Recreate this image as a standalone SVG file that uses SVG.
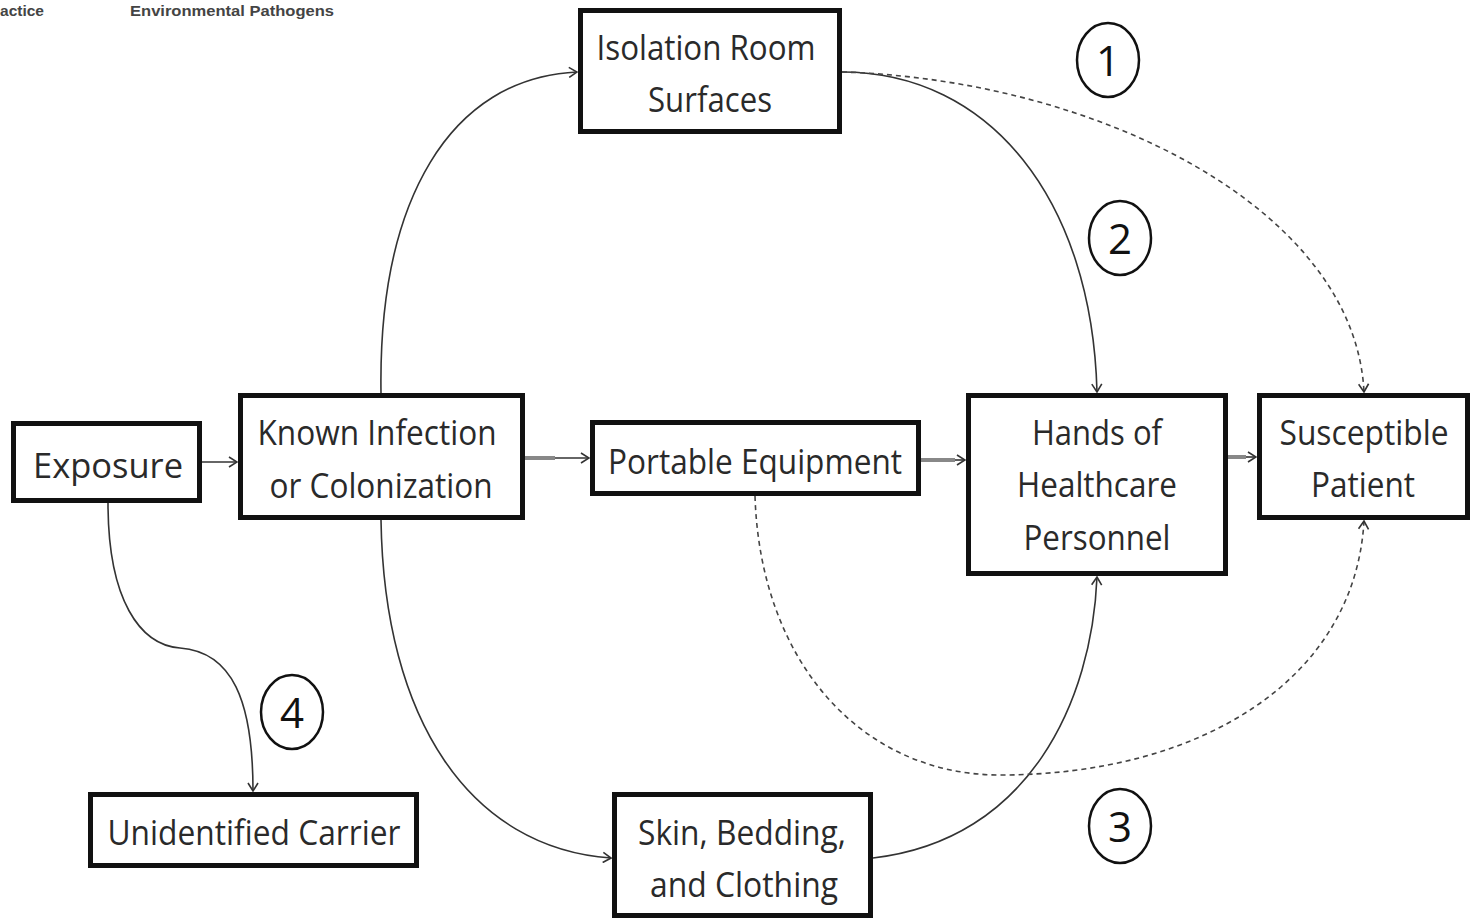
<svg xmlns="http://www.w3.org/2000/svg" width="1471" height="920" viewBox="0 0 1471 920">
<style>
.box{fill:#fff;stroke:#111;stroke-width:5}
.t{font-family:"Open Sans","Liberation Sans",sans-serif;font-size:34px;fill:#2a2a2a;text-anchor:middle}
.hdr{font-family:"Liberation Sans",Arial,sans-serif;font-size:15px;fill:#444;font-weight:bold}
.c{fill:none;stroke:#333;stroke-width:1.6}
.g{fill:none;stroke:#888;stroke-width:4}
.d{fill:none;stroke:#444;stroke-width:1.6;stroke-dasharray:5 4}
.num{fill:none;stroke:#111;stroke-width:2.5}
.n{font-family:"Open Sans","Liberation Sans",sans-serif;font-size:42px;fill:#111;text-anchor:middle}
</style>
<defs>
<marker id="ah" viewBox="0 0 10 12" refX="9" refY="6" markerWidth="10" markerHeight="12" markerUnits="userSpaceOnUse" orient="auto">
<path d="M1,1 L9,6 L1,11" fill="none" stroke="#333" stroke-width="1.6"/>
</marker>
</defs>
<rect width="1471" height="920" fill="#fff"/>
<text class="hdr" x="0" y="16" textLength="44" lengthAdjust="spacingAndGlyphs">actice</text>
<text class="hdr" x="130" y="16" textLength="204" lengthAdjust="spacingAndGlyphs">Environmental Pathogens</text>

<g id="connectors">
<path class="c" d="M202,462 L237,462" marker-end="url(#ah)"/>
<path class="g" d="M525,458 L555,458"/>
<path class="c" d="M555,458 L589,458" marker-end="url(#ah)"/>
<path class="g" d="M921,460 L955,460"/>
<path class="c" d="M955,460 L965,460" marker-end="url(#ah)"/>
<path class="g" d="M1228,457 L1246,457"/>
<path class="c" d="M1246,457 L1256,457" marker-end="url(#ah)"/>
<path class="c" d="M381,393 C378,200 450,78 577,72" marker-end="url(#ah)"/>
<path class="c" d="M381,520 C384,720 470,848 611,858" marker-end="url(#ah)"/>
<path class="c" d="M842,72 C990,72 1092,200 1097,392" marker-end="url(#ah)"/>
<path class="d" d="M842,72 C1100,80 1355,210 1364,392" marker-end="url(#ah)"/>
<path class="c" d="M873,858 C1030,840 1092,700 1097,577" marker-end="url(#ah)"/>
<path class="d" d="M755,496 C760,660 860,775 1000,775 C1200,775 1355,680 1364,521" marker-end="url(#ah)"/>
<path class="c" d="M108,503 C108,600 140,645 180,648 C232,652 253,700 253,791" marker-end="url(#ah)"/>
</g>

<g id="isolation"><rect class="box" x="580.5" y="10.5" width="259" height="121"/>
<text class="t" x="706" y="60" textLength="219" lengthAdjust="spacingAndGlyphs">Isolation Room</text>
<text class="t" x="710" y="112" textLength="124" lengthAdjust="spacingAndGlyphs">Surfaces</text></g>

<g id="exposure"><rect class="box" x="13.5" y="423.5" width="186" height="77"/>
<text class="t" x="108" y="478" textLength="150" lengthAdjust="spacingAndGlyphs">Exposure</text></g>

<g id="known"><rect class="box" x="240.5" y="395.5" width="282" height="122"/>
<text class="t" x="377" y="445" textLength="239" lengthAdjust="spacingAndGlyphs">Known Infection</text>
<text class="t" x="381" y="498" textLength="223" lengthAdjust="spacingAndGlyphs">or Colonization</text></g>

<g id="portable"><rect class="box" x="592.5" y="422.5" width="326" height="71"/>
<text class="t" x="755" y="474" textLength="294" lengthAdjust="spacingAndGlyphs">Portable Equipment</text></g>

<g id="hands"><rect class="box" x="968.5" y="395.5" width="257" height="178"/>
<text class="t" x="1097" y="445" textLength="130" lengthAdjust="spacingAndGlyphs">Hands of</text>
<text class="t" x="1097" y="497" textLength="160" lengthAdjust="spacingAndGlyphs">Healthcare</text>
<text class="t" x="1097" y="550" textLength="147" lengthAdjust="spacingAndGlyphs">Personnel</text></g>

<g id="susceptible"><rect class="box" x="1259.5" y="395.5" width="208" height="122"/>
<text class="t" x="1364" y="445" textLength="169" lengthAdjust="spacingAndGlyphs">Susceptible</text>
<text class="t" x="1363" y="497" textLength="104" lengthAdjust="spacingAndGlyphs">Patient</text></g>

<g id="unidentified"><rect class="box" x="90.5" y="794.5" width="326" height="71"/>
<text class="t" x="254" y="845" textLength="293" lengthAdjust="spacingAndGlyphs">Unidentified Carrier</text></g>

<g id="skin"><rect class="box" x="614.5" y="794.5" width="256" height="121"/>
<text class="t" x="742" y="845" textLength="208" lengthAdjust="spacingAndGlyphs">Skin, Bedding,</text>
<text class="t" x="744" y="897" textLength="188" lengthAdjust="spacingAndGlyphs">and Clothing</text></g>

<g id="label1"><ellipse class="num" cx="1108" cy="60" rx="31" ry="37"/><text class="n" x="1108" y="76">1</text></g>
<g id="label2"><ellipse class="num" cx="1120" cy="238" rx="31" ry="37"/><text class="n" x="1120" y="254">2</text></g>
<g id="label3"><ellipse class="num" cx="1120" cy="826" rx="31" ry="37"/><text class="n" x="1120" y="842">3</text></g>
<g id="label4"><ellipse class="num" cx="292" cy="712" rx="31" ry="37"/><text class="n" x="292" y="728">4</text></g>
</svg>
